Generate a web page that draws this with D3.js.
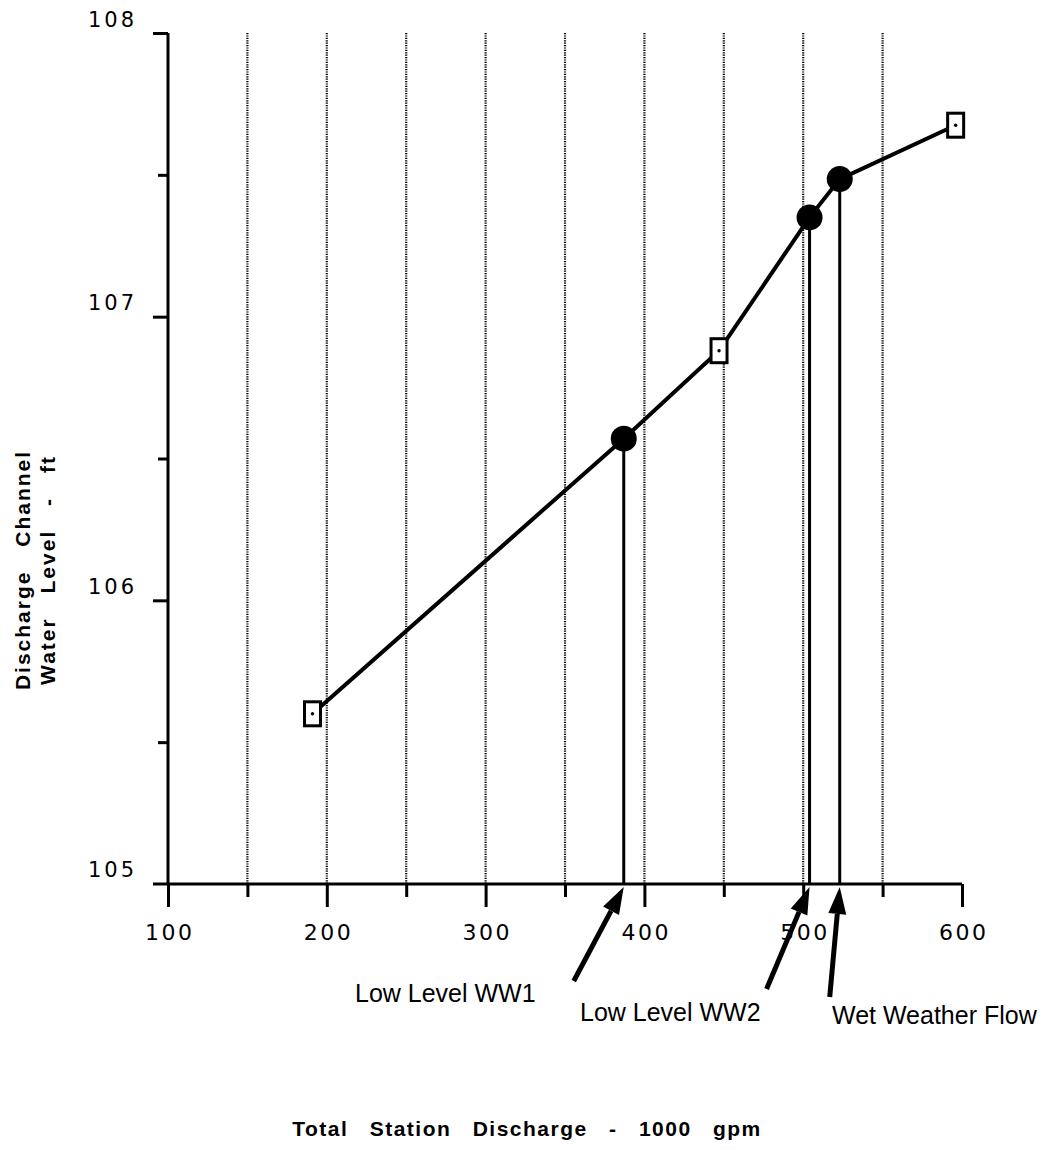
<!DOCTYPE html>
<html>
<head>
<meta charset="utf-8">
<script src="https://cdn.jsdelivr.net/npm/d3@7"></script>
<style>
  body { margin: 0; background: #fff; }
  svg { display: block; }
</style>
</head>
<body>
<svg id="chart"></svg>
<script>
// data
const discharge = [191, 387, 447, 504, 523, 596];          // 1000 gpm
const waterLevel = [105.6, 106.57, 106.88, 107.35, 107.485, 107.675]; // ft
const markerType = ["square", "circle", "square", "circle", "circle", "square"];

const xMajorTicks = [100, 200, 300, 400, 500, 600];
const xMinorTicks = [150, 250, 350, 450, 550];
const gridValues = [150, 200, 250, 300, 350, 400, 450, 500, 550];
const yMajorTicks = [105, 106, 107, 108];
const yMinorTicks = [105.5, 106.5, 107.5];

const noteLabels = ["Low Level WW1", "Low Level WW2", "Wet Weather Flow"];
const noteValues = [387, 504, 523];

const width = 1056;
const height = 1150;
const tickFont = "DejaVu Sans, Verdana, sans-serif";
const textFont = "Liberation Sans, Arial, sans-serif";

const x = d3.scaleLinear().domain([100, 600]).range([168, 962]);
const y = d3.scaleLinear().domain([105, 108]).range([884, 33]);

const svg = d3.select("#chart").attr("width", width).attr("height", height);

// dotted vertical grid
svg.append("g")
  .attr("stroke", "#000")
  .attr("stroke-width", 2.2)
  .attr("stroke-dasharray", "1.2,1.2")
  .selectAll("line")
  .data(gridValues)
  .join("line")
  .attr("x1", d => x(d)).attr("x2", d => x(d))
  .attr("y1", y(108)).attr("y2", y(105));

// x axis: minor then major ticks
const xMinor = svg.append("g")
  .attr("transform", `translate(0,${y(105)})`)
  .call(d3.axisBottom(x).tickValues(xMinorTicks).tickSize(13).tickFormat(""));
const xMajor = svg.append("g")
  .attr("transform", `translate(0,${y(105)})`)
  .call(d3.axisBottom(x).tickValues(xMajorTicks).tickSize(23).tickFormat(d3.format("d")));

// y axis
const yMinor = svg.append("g")
  .attr("transform", `translate(${x(100)},0)`)
  .call(d3.axisLeft(y).tickValues(yMinorTicks).tickSize(10).tickFormat(""));
const yMajor = svg.append("g")
  .attr("transform", `translate(${x(100)},0)`)
  .call(d3.axisLeft(y).tickValues(yMajorTicks.filter(v => v !== 105)).tickSize(15).tickFormat(d3.format("d")));
// 105 label has no own tick (x axis runs through it)
yMajor.append("g").attr("class", "tick")
  .attr("transform", `translate(0,${y(105)})`)
  .append("text").text(d3.format("d")(105));

[xMinor, xMajor, yMinor, yMajor].forEach(g => {
  g.select(".domain").remove();
  g.selectAll("line").attr("stroke", "#000").attr("stroke-width", 3);
});

xMajor.selectAll("text")
  .attr("y", 56).attr("dy", 0).attr("dx", 1.25)
  .attr("fill", "#000")
  .attr("font-family", tickFont)
  .attr("font-size", 22)
  .attr("letter-spacing", 2.5);

yMajor.selectAll("text")
  .attr("x", -31).attr("y", -7).attr("dy", 0)
  .attr("text-anchor", "end")
  .attr("fill", "#000")
  .attr("font-family", tickFont)
  .attr("font-size", 21)
  .attr("letter-spacing", 3);

// axis lines
svg.append("line")
  .attr("x1", x(100) - 15).attr("x2", x(600))
  .attr("y1", y(105)).attr("y2", y(105))
  .attr("stroke", "#000").attr("stroke-width", 3);
svg.append("line")
  .attr("x1", x(100)).attr("x2", x(100))
  .attr("y1", y(108)).attr("y2", y(105))
  .attr("stroke", "#000").attr("stroke-width", 3);

const pts = discharge.map((d, i) => ({ q: d, h: waterLevel[i], type: markerType[i] }));

// drop lines from the operating points
svg.append("g")
  .attr("stroke", "#000").attr("stroke-width", 3)
  .selectAll("line")
  .data(pts.filter(p => p.type === "circle"))
  .join("line")
  .attr("x1", d => x(d.q)).attr("x2", d => x(d.q))
  .attr("y1", d => y(d.h)).attr("y2", y(105));

// curve
svg.append("path")
  .datum(pts)
  .attr("fill", "none")
  .attr("stroke", "#000")
  .attr("stroke-width", 4)
  .attr("d", d3.line().x(d => x(d.q)).y(d => y(d.h)));

// markers
svg.append("g")
  .selectAll("circle")
  .data(pts.filter(p => p.type === "circle"))
  .join("circle")
  .attr("cx", d => x(d.q)).attr("cy", d => y(d.h))
  .attr("r", 13).attr("fill", "#000");

const sq = svg.append("g")
  .selectAll("g")
  .data(pts.filter(p => p.type === "square"))
  .join("g")
  .attr("transform", d => `translate(${x(d.q)},${y(d.h)})`);
sq.append("rect")
  .attr("x", -8).attr("y", -12).attr("width", 16).attr("height", 24)
  .attr("fill", "#fff").attr("stroke", "#000").attr("stroke-width", 3);
sq.append("circle").attr("r", 1.7).attr("fill", "#000");

// annotation arrows (tail offset from tip) and labels
const tails = [[-50, 94], [-43, 102], [-10, 110]];
const textPos = [[355, 1002], [580, 1021], [832, 1024]];
const tipY = y(105) + 3;

noteValues.forEach((v, i) => {
  const tx = x(v), ty = tipY;
  const sx = tx + tails[i][0], sy = ty + tails[i][1];
  const len = Math.hypot(sx - tx, sy - ty);
  const ux = (sx - tx) / len, uy = (sy - ty) / len;
  const headL = 27, headW = 9;
  const bx = tx + ux * headL, by = ty + uy * headL;
  svg.append("line")
    .attr("x1", sx).attr("y1", sy).attr("x2", bx).attr("y2", by)
    .attr("stroke", "#000").attr("stroke-width", 5);
  svg.append("path")
    .attr("fill", "#000")
    .attr("d", `M${tx},${ty}L${bx - uy * headW},${by + ux * headW}L${bx + uy * headW},${by - ux * headW}Z`);
  svg.append("text")
    .attr("x", textPos[i][0]).attr("y", textPos[i][1])
    .attr("font-family", textFont)
    .attr("font-size", 25)
    .attr("fill", "#000")
    .text(noteLabels[i]);
});

// axis titles
svg.append("text")
  .attr("transform", `translate(30,570) rotate(-90)`)
  .attr("text-anchor", "middle")
  .attr("font-family", textFont)
  .attr("font-weight", "bold")
  .attr("font-size", 21)
  .attr("letter-spacing", 2)
  .attr("word-spacing", 16)
  .text("Discharge Channel");
svg.append("text")
  .attr("transform", `translate(55,570) rotate(-90)`)
  .attr("text-anchor", "middle")
  .attr("font-family", textFont)
  .attr("font-weight", "bold")
  .attr("font-size", 21)
  .attr("letter-spacing", 2)
  .attr("word-spacing", 16)
  .text("Water Level - ft");
svg.append("text")
  .attr("x", 527).attr("y", 1136)
  .attr("text-anchor", "middle")
  .attr("font-family", textFont)
  .attr("font-weight", "bold")
  .attr("font-size", 21)
  .attr("letter-spacing", 1.5)
  .attr("word-spacing", 14)
  .text("Total Station Discharge - 1000 gpm");
</script>
</body>
</html>
